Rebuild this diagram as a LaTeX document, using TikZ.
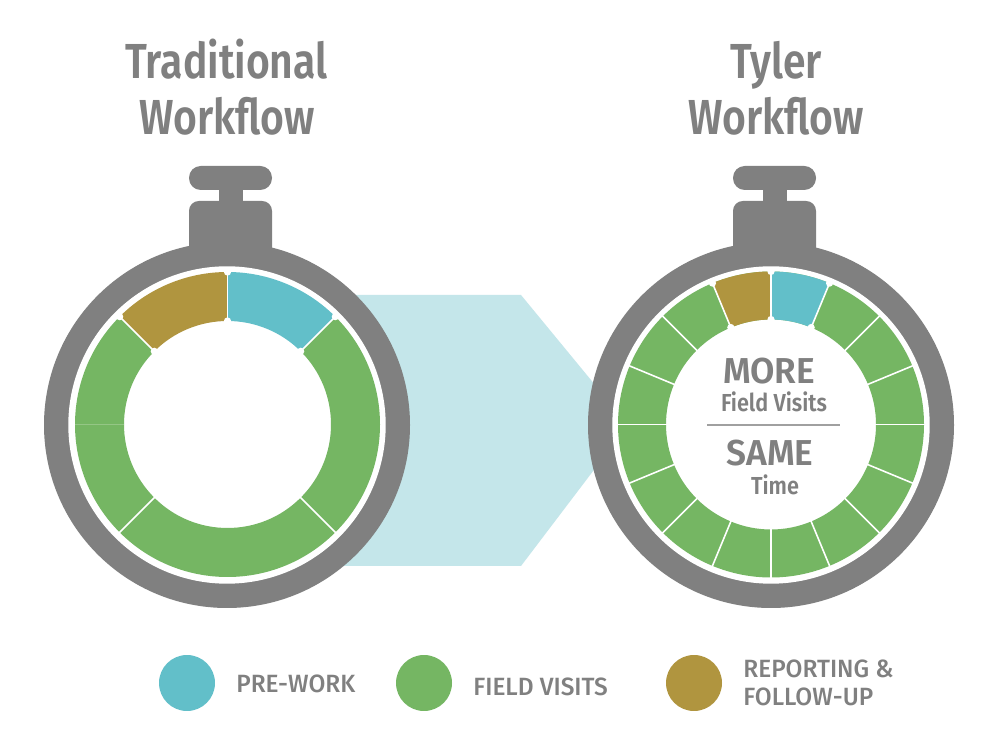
\documentclass[tikz,border=0pt]{standalone}
\usepackage{fontspec}
\newfontfamily\ttlfont{Fira Sans SemiBold}[FakeStretch=0.83]
\newfontfamily\bigfont{Fira Sans SemiBold}[FakeStretch=0.98]
\newfontfamily\smlfont{Fira Sans SemiBold}[FakeStretch=0.88]
\newfontfamily\keyfont{Fira Sans Medium}[FakeStretch=0.98]
\usetikzlibrary{calc}
\definecolor{wf_gray}{RGB}{128, 128, 128}
\definecolor{wf_blue}{RGB}{98, 191, 201}
\definecolor{wf_green}{RGB}{117, 182, 99}
\definecolor{wf_brown}{RGB}{176, 149, 63}
\definecolor{wf_pale}{RGB}{196, 230, 234}
\tikzstyle{ttl}=[anchor=base,text=wf_gray,inner sep=0pt,font=\fontsize{28}{28}\ttlfont]
\tikzstyle{big}=[anchor=base,text=wf_gray,inner sep=0pt,font=\fontsize{20.5}{20.5}\bigfont]
\tikzstyle{sml}=[anchor=base,text=wf_gray,inner sep=0pt,font=\fontsize{14}{14}\smlfont]
\tikzstyle{key}=[anchor=base west,text=wf_gray,inner sep=0pt,font=\fontsize{14.2}{14.2}\keyfont]
\tikzstyle{dot}=[circle,inner sep=0pt,minimum size=1.12cm]
\tikzstyle{cut}=[white,line width=0.9pt]
% ring piece: colour, from angle, to angle, inner radius, outer radius
\newcommand{\piece}[5]{\fill [#1] (#2:#4) arc [start angle=#2, end angle=#3, radius=#4]
  -- (#3:#5) arc [start angle=#3, end angle=#2, radius=#5] -- cycle;}
% white nicks at the corners of a piece
\newcommand{\nick}[3]{\fill [white] (#1:#2) circle [radius=3.6] (#1:#3) circle [radius=3.6];}
% case of the watch, centre at (#1,325), stem at #2
\newcommand{\watch}[2]{
  \fill [wf_gray] (#1, 325) circle [radius=183];
  \fill [wf_gray, rounded corners=5.6pt] (#2-41.5, 488) rectangle (#2+41.5, 549);
  \fill [wf_gray] (#2-12, 540) rectangle (#2+12, 570);
  \fill [wf_gray, rounded corners=6.7pt] (#2-41.5, 560) rectangle (#2+41.5, 584);
  \fill [white] (#1, 325) circle [radius=158.7];
}

\begin{document}
\begin{tikzpicture}[x=0.02cm, y=0.02cm]
  \useasboundingbox (0, 0) rectangle (1000, 750);
  \fill [white] (0, 0) rectangle (1000, 750);
  \fill [wf_pale] (300, 455) -- (521, 455) -- (628, 325) -- (521, 184) -- (300, 184) -- cycle;
  \watch{227}{230.5}
  \watch{771}{774.5}
  % left ring
  \begin{scope}[shift={(227.5, 325.5)}]
    \piece{wf_blue}{45}{90}{103.5}{152.5}
    \piece{wf_brown}{90}{135}{103.5}{152.5}
    \piece{wf_green}{-45}{45}{103.5}{152.5}
    \piece{wf_green}{-135}{-45}{103.5}{152.5}
    \piece{wf_green}{-180}{-135}{103.5}{152.5}
    \piece{wf_green}{135}{180}{103.5}{152.5}
    \foreach \a in {45, 90, 135, -45, -135} {
      \draw [style=cut] (\a:100) -- (\a:155);
    }
    \foreach \a in {45, 90, 135} {
      \nick{\a}{103.5}{152.5}
    }
  \end{scope}
  % right ring
  \begin{scope}[shift={(771, 325.5)}]
    \foreach \a in {0, 22.5, ..., 337.5} {
      \piece{wf_green}{\a}{\a+22.5}{105}{153}
    }
    \piece{wf_blue}{67.5}{90}{105}{153}
    \piece{wf_brown}{90}{112.5}{105}{153}
    \foreach \a in {0, 22.5, ..., 337.5} {
      \draw [style=cut] (\a:102) -- (\a:156);
    }
    \foreach \a in {67.5, 90, 112.5} {
      \nick{\a}{105}{153}
    }
  \end{scope}
  \node [style=ttl] (0) at (226.5, 671) {Traditional};
  \node [style=ttl] (1) at (227, 615) {Workflow};
  \node [style=ttl] (2) at (776, 671) {Tyler};
  \node [style=ttl] (3) at (776, 615) {Workflow};
  \node [style=big] (4) at (769, 366) {MORE};
  \node [style=sml] (5) at (774, 338) {Field Visits};
  \node [style=big] (6) at (770, 284) {SAME};
  \node [style=sml] (7) at (775, 255) {Time};
  \coordinate (8) at (707, 325);
  \coordinate (9) at (840, 325);
  \draw [wf_gray!75, line width=0.6pt] (8) -- (9);
  \node [style=dot, fill=wf_blue] (10) at (187, 67) {};
  \node [style=dot, fill=wf_green] (11) at (424, 67) {};
  \node [style=dot, fill=wf_brown] (12) at (694, 67) {};
  \node [style=key] (13) at (236, 57) {PRE-WORK};
  \node [style=key] (14) at (473, 54) {FIELD VISITS};
  \node [style=key] (15) at (743, 72) {REPORTING \&};
  \node [style=key] (16) at (743, 44) {FOLLOW-UP};
\end{tikzpicture}
\end{document}
